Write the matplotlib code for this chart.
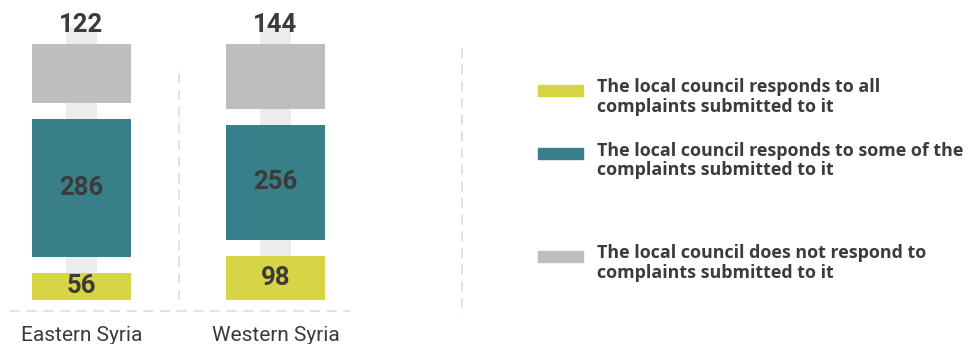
import matplotlib
matplotlib.use('Agg')
import matplotlib.pyplot as plt
from matplotlib.patches import Rectangle
import numpy as np

regions = ['Eastern Syria', 'Western Syria']
responds_all = [56, 98]
responds_some = [286, 256]
no_response = [122, 144]

series_labels = ['The local council responds to all\ncomplaints submitted to it',
                 'The local council responds to some of the\ncomplaints submitted to it',
                 'The local council does not respond to\ncomplaints submitted to it']
colors = ['#d7d545', '#387f8a', '#bebebe']
track_color = '#ececec'
text_color = '#3b3b3b'

plt.rcParams['font.family'] = ['Roboto', 'DejaVu Sans']

W, H = 974, 344
fig = plt.figure(figsize=(W / 100, H / 100), dpi=100)

# bar area: pixels 0..360 wide, baseline at y=300 px, 2.24 px per percent
px_per_unit = 2.24
gap = 16 / px_per_unit
ax = fig.add_axes([0, (H - 300) / H, 360 / W, 300 / H])
ax.set_xlim(-81.5 / 194, (360 - 81.5) / 194)
ax.set_ylim(0, 300 / px_per_unit)
ax.axis('off')

x = np.arange(len(regions))
data = np.array([responds_all, responds_some, no_response], dtype=float)
pct = data / data.sum(axis=0) * 100

# light track behind the bars
ax.bar(x, (300 - 27) / px_per_unit, width=31 / 194, color=track_color, zorder=1)

bottom = np.zeros(len(regions))
for i in range(3):
    ax.bar(x, pct[i], bottom=bottom, width=99 / 194, color=colors[i], zorder=2)
    for j in range(len(regions)):
        if i < 2:
            ax.text(x[j], bottom[j] + pct[i][j] / 2, str(int(data[i][j])), ha='center', va='center',
                    fontsize=18.5, fontweight='bold', color=text_color, zorder=3)
        else:
            ax.text(x[j], (300 - 25) / px_per_unit, str(int(data[i][j])), ha='center', va='center',
                    fontsize=18.5, fontweight='bold', color=text_color, zorder=3)
    bottom = bottom + pct[i] + gap

# divider between the bars
ax.plot([0.5, 0.5], [0, (300 - 66) / px_per_unit], color='#dddddd', lw=1.2,
        dashes=(6, 4), zorder=0)

for j in range(len(regions)):
    ax.text(x[j], -26 / px_per_unit, regions[j], ha='center', va='top', fontsize=15,
            fontweight='normal', color=text_color, clip_on=False)

# overlay in pixel coordinates for guides and legend
ov = fig.add_axes([0, 0, 1, 1], zorder=-1)
ov.set_xlim(0, W)
ov.set_ylim(H, 0)
ov.axis('off')
ov.plot([10, 350], [311, 311], color='#dddddd', lw=1.2, dashes=(6, 4))
ov.plot([462, 462], [48, 315], color='#dddddd', lw=1.2, dashes=(6, 4))

leg = fig.add_axes([0, 0, 1, 1])
leg.set_xlim(0, W)
leg.set_ylim(H, 0)
leg.axis('off')
legend_y = [96, 159, 262]
for i in range(3):
    leg.add_patch(Rectangle((538, legend_y[i] - 11), 45, 11, color=colors[i]))
    leg.text(597, legend_y[i] - 5.5 - 12, series_labels[i], ha='left', va='top', fontsize=12.9,
             fontweight='bold', family=['Open Sans', 'DejaVu Sans'], color=text_color,
             linespacing=1.12)

fig.savefig('out.png', dpi=100)
